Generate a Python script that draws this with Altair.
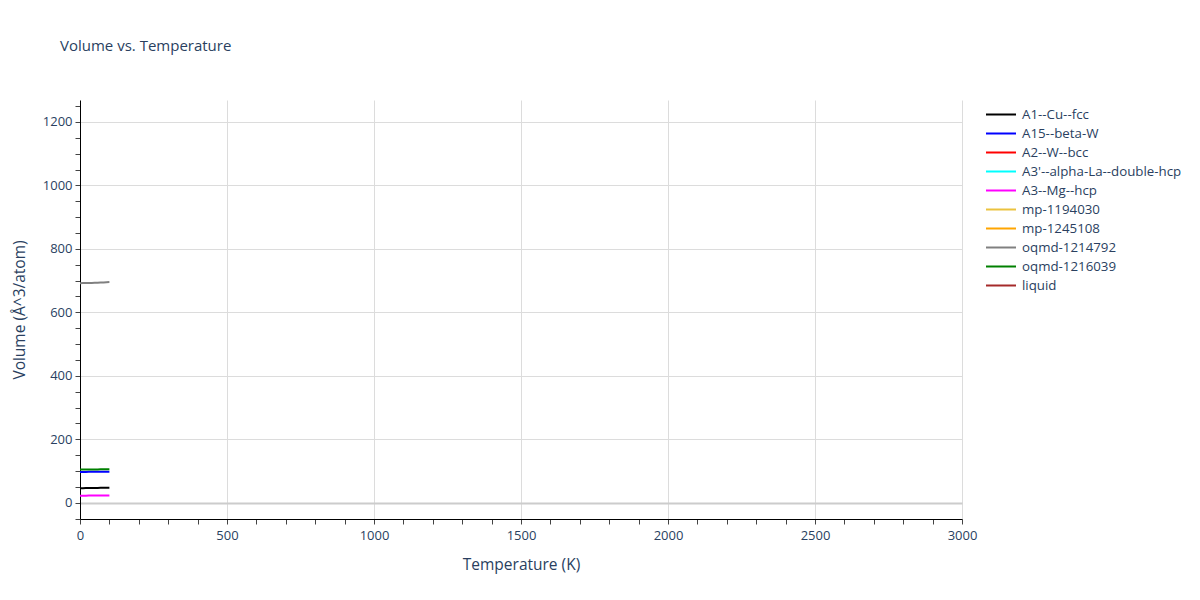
import altair as alt
import pandas as pd

series_names = [
    "A1--Cu--fcc", "A15--beta-W", "A2--W--bcc", "A3'--alpha-La--double-hcp",
    "A3--Mg--hcp", "mp-1194030", "mp-1245108", "oqmd-1214792",
    "oqmd-1216039", "liquid",
]
series_colors = [
    "#000000", "#0000ff", "#ff0000", "#00ffff", "#ff00ff",
    "#ebc23f", "#ffa500", "#808080", "#008000", "#a52a2a",
]

temps = [0, 10, 20, 30, 40, 50, 60, 70, 80, 90, 100]
vol_a1 = [46.2, 46.2, 46.3, 46.4, 46.5, 46.7, 46.9, 47.1, 47.3, 47.5, 47.7]
vol_a15 = [97.4, 97.4, 97.4, 97.5, 97.5, 97.6, 97.7, 97.8, 97.9, 98.0, 98.1]
vol_a3 = [22.6, 22.6, 22.6, 22.7, 22.7, 22.8, 22.9, 23.0, 23.1, 23.2, 23.3]
vol_oqmd1 = [692.0, 692.1, 692.2, 692.4, 692.7, 693.0, 693.4, 693.8, 694.3, 694.8, 695.3]
vol_oqmd2 = [105.0, 105.0, 105.0, 105.1, 105.1, 105.2, 105.3, 105.4, 105.5, 105.6, 105.7]

rows = []
for name, vals in [
    ("A1--Cu--fcc", vol_a1),
    ("A15--beta-W", vol_a15),
    ("A3--Mg--hcp", vol_a3),
    ("oqmd-1214792", vol_oqmd1),
    ("oqmd-1216039", vol_oqmd2),
]:
    for t, v in zip(temps, vals):
        rows.append({"T": t, "V": v, "phase": name})
df = pd.DataFrame(rows)

FONT = "Open Sans"
TXT = "#2a3f5f"

x_ticks = list(range(0, 3001, 100))
y_ticks = list(range(-50, 1251, 50))

chart = alt.Chart(df).mark_line(strokeWidth=2, clip=True).encode(
    x=alt.X("T:Q", title="Temperature (K)",
            scale=alt.Scale(domain=[0, 3000], nice=False, zero=False),
            axis=alt.Axis(values=x_ticks, labelOverlap=False, labelFlush=False,
                          labelExpr="datum.value % 500 === 0 ? datum.label : ''",
                          gridOpacity={"condition": {"test": "datum.value % 500 === 0", "value": 1}, "value": 0},
                          format="d")),
    y=alt.Y("V:Q", title="Volume (Å^3/atom)",
            scale=alt.Scale(domain=[-51, 1269], nice=False, zero=False),
            axis=alt.Axis(values=y_ticks, labelOverlap=False, labelFlush=False,
                          labelExpr="datum.value % 200 === 0 ? datum.label : ''",
                          gridOpacity={"condition": {"test": "datum.value % 200 === 0", "value": 1}, "value": 0},
                          gridColor={"condition": {"test": "datum.value === 0", "value": "#cccccc"}, "value": "#dcdcdc"},
                          gridWidth={"condition": {"test": "datum.value === 0", "value": 2}, "value": 1},
                          format="d")),
    color=alt.Color("phase:N", title=None,
                    scale=alt.Scale(domain=series_names, range=series_colors),
                    legend=alt.Legend(orient="none", legendX=904, legendY=4,
                                      symbolType="M-0.895,0H2.263", symbolStrokeWidth=2,
                                      symbolSize=361, rowPadding=2,
                                      labelFontSize=13.3, labelFont=FONT,
                                      labelColor=TXT, labelLimit=300,
                                      labelOffset=17, padding=0)),
).properties(
    width=882, height=419,
    title=alt.TitleParams("Volume vs. Temperature", anchor="start", frame="group",
                          dx=-20, offset=46, fontSize=15, font=FONT, color=TXT,
                          fontWeight="normal"),
    autosize=alt.AutoSizeParams(type="none"),
    padding={"left": 72, "top": 92, "right": 230, "bottom": 73},
).configure_view(stroke=None).configure_axis(
    domainColor="#000000", domainWidth=1,
    tickColor="#444444", tickSize=5,
    gridColor="#dcdcdc", gridWidth=1,
    labelFont=FONT, labelFontSize=13, labelColor=TXT,
    titleFont=FONT, titleFontSize=15.5, titleColor=TXT, titleFontWeight="normal",
).configure_axisX(titlePadding=15, labelPadding=5).configure_axisY(titlePadding=15, labelPadding=3)

chart.save("out.html", embed_options={"renderer": "svg", "actions": False})
